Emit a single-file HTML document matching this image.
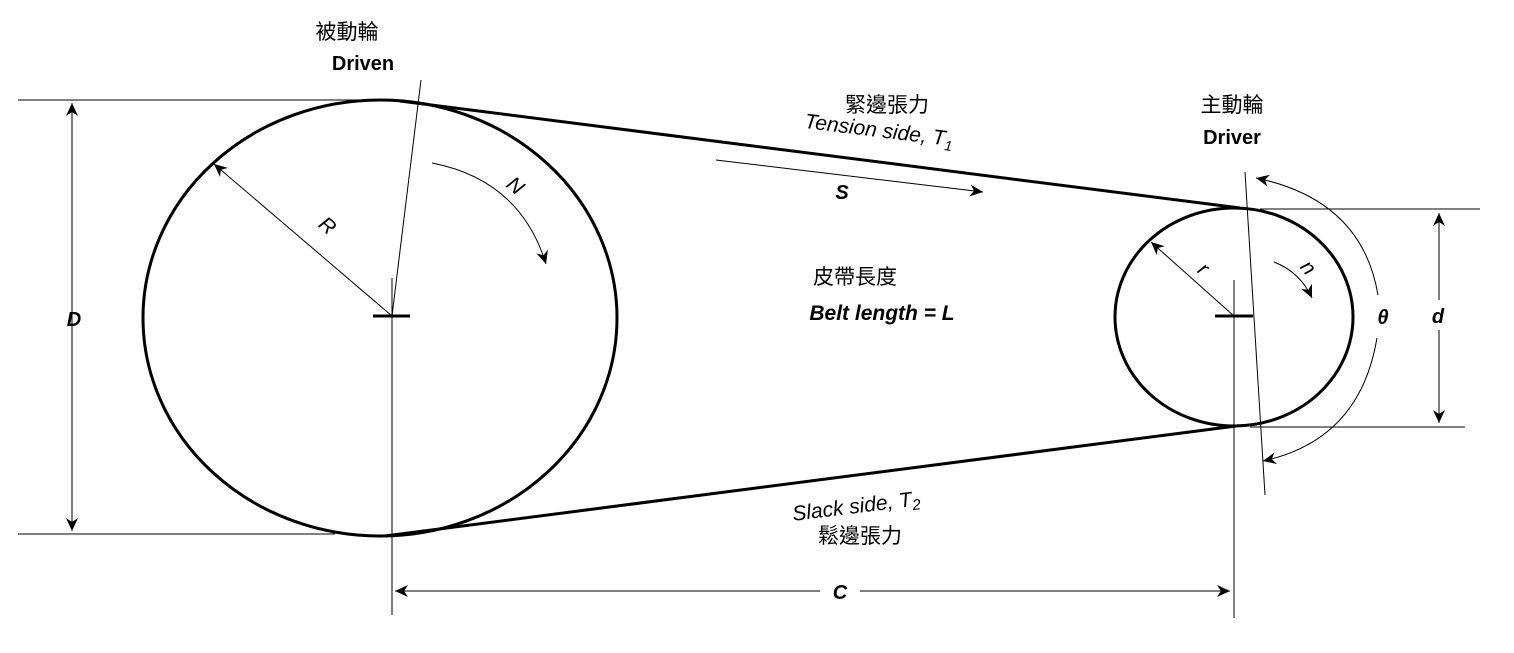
<!DOCTYPE html>
<html><head><meta charset="utf-8"><style>
html,body{margin:0;padding:0;background:#fff;}
svg{display:block;}
text{font-family:"Liberation Sans","Noto Sans CJK TC",sans-serif;fill:#000;}
</style></head><body>
<svg width="1514" height="653" viewBox="0 0 1514 653" xmlns="http://www.w3.org/2000/svg">
<defs>
<marker id="a" markerWidth="14" markerHeight="12" refX="13" refY="6" orient="auto" markerUnits="userSpaceOnUse">
<path d="M0,0 L13,6 L0,12 L4,6 Z" fill="#000"/>
</marker>
</defs>
<g stroke="#000" fill="none">
<ellipse cx="380" cy="318" rx="237" ry="218" stroke-width="3"/>
<ellipse cx="1234" cy="317" rx="119" ry="109" stroke-width="3"/>
<line x1="400" y1="101" x2="1240" y2="208" stroke-width="3"/>
<line x1="385" y1="536" x2="1236" y2="426" stroke-width="3"/>
<line x1="18" y1="100" x2="380" y2="100" stroke-width="1"/>
<line x1="18" y1="534" x2="335" y2="534" stroke-width="1"/>
<line x1="1260" y1="209" x2="1480" y2="209" stroke-width="1"/>
<line x1="1250" y1="427" x2="1465" y2="427" stroke-width="1"/>
<line x1="392" y1="278" x2="392" y2="615" stroke-width="1"/>
<line x1="1234" y1="280" x2="1234" y2="618" stroke-width="1"/>
<line x1="373" y1="316" x2="410" y2="316" stroke-width="3"/>
<line x1="1215" y1="316" x2="1253" y2="316" stroke-width="3"/>
<line x1="421" y1="80" x2="392" y2="316" stroke-width="1"/>
<line x1="1245" y1="172" x2="1265" y2="495" stroke-width="1"/>
<line x1="72" y1="318" x2="72" y2="103" stroke-width="1" marker-end="url(#a)"/>
<line x1="72" y1="318" x2="72" y2="531" stroke-width="1" marker-end="url(#a)"/>
<line x1="1439" y1="300" x2="1439" y2="213" stroke-width="1" marker-end="url(#a)"/>
<line x1="1439" y1="330" x2="1439" y2="423" stroke-width="1" marker-end="url(#a)"/>
<line x1="820" y1="591" x2="395" y2="591" stroke-width="1" marker-end="url(#a)"/>
<line x1="860" y1="591" x2="1230" y2="591" stroke-width="1" marker-end="url(#a)"/>
<line x1="392" y1="316" x2="214" y2="164" stroke-width="1" marker-end="url(#a)"/>
<line x1="1234" y1="316" x2="1151" y2="242" stroke-width="1" marker-end="url(#a)"/>
<line x1="716" y1="160" x2="983" y2="192" stroke-width="1" marker-end="url(#a)"/>
<path d="M432,163 Q520,180 546,264" stroke-width="1" marker-end="url(#a)"/>
<path d="M1274,262 Q1300,272 1312,298" stroke-width="1" marker-end="url(#a)"/>
<path d="M1378,295 Q1362,200 1256,178" stroke-width="1" marker-end="url(#a)"/>
<path d="M1377,338 Q1360,440 1263,461" stroke-width="1" marker-end="url(#a)"/>
</g>
<g font-size="21">
<text x="347" y="39" text-anchor="middle" font-size="21">被動輪</text>
<text x="363" y="70" text-anchor="middle" font-weight="bold" font-size="20">Driven</text>
<text x="1232" y="112" text-anchor="middle" font-size="21">主動輪</text>
<text x="1232" y="144" text-anchor="middle" font-weight="bold" font-size="20">Driver</text>
<text x="887" y="112" text-anchor="middle" font-size="21">緊邊張力</text>
<text x="878" y="137" text-anchor="middle" font-style="italic" transform="rotate(7 878 137)">Tension side, T<tspan font-size="14" dy="5">1</tspan></text>
<text x="855" y="284" text-anchor="middle" font-size="21">皮帶長度</text>
<text x="882" y="320" text-anchor="middle" font-weight="bold" font-style="italic">Belt length = L</text>
<text x="857" y="513" text-anchor="middle" font-style="italic" transform="rotate(-7 857 513)">Slack side, T<tspan font-size="15" dy="4">2</tspan></text>
<text x="860" y="543" text-anchor="middle" font-size="21">鬆邊張力</text>
<text x="842" y="199" text-anchor="middle" font-weight="bold" font-style="italic" font-size="20">S</text>
<text x="74" y="326" text-anchor="middle" font-weight="bold" font-style="italic" font-size="20">D</text>
<text x="1438" y="323" text-anchor="middle" font-weight="bold" font-style="italic" font-size="20">d</text>
<text x="1383" y="324" text-anchor="middle" font-weight="bold" font-style="italic" font-size="20">θ</text>
<text x="840" y="599" text-anchor="middle" font-weight="bold" font-style="italic" font-size="20">C</text>
<text x="323" y="231" text-anchor="middle" font-style="italic" transform="rotate(40 323 231)">R</text>
<text x="1199" y="274" text-anchor="middle" font-style="italic" transform="rotate(40 1199 274)">r</text>
<text x="511" y="191" text-anchor="middle" font-style="italic" transform="rotate(40 511 191)">N</text>
<text x="1303" y="272" text-anchor="middle" font-style="italic" transform="rotate(50 1303 272)">n</text>
</g>
</svg>
</body></html>
